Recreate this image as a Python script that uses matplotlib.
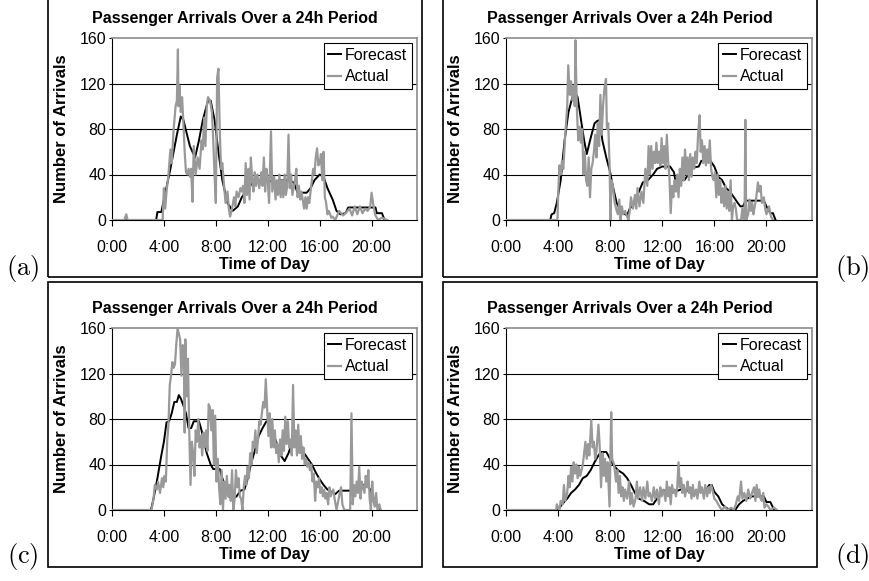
#!/usr/bin/env python3
"""Forecast vs actual passenger arrivals over a 24h period, four panels."""

import matplotlib.pyplot as plt
from matplotlib.patches import Rectangle

plt.rcParams["font.family"] = ["Liberation Sans", "DejaVu Sans"]

FIG_W, FIG_H = 870, 581

HOUR_TICKS = [0, 4, 8, 12, 16, 20]
HOUR_LABELS = ["0:00", "4:00", "8:00", "12:00", "16:00", "20:00"]
Y_TICKS = [0, 40, 80, 120, 160]
TITLE = "Passenger Arrivals Over a 24h Period"
PANEL_TAGS = ["(a)", "(b)", "(c)", "(d)"]

# (hour, arrivals)
A_FORECAST = [
    (0, 0), (3.4, 0), (3.5, 7), (3.8, 7), (4.0, 18), (4.5, 45), (5.0, 75), (5.3, 91),
    (5.5, 88), (6.0, 65), (6.4, 55), (6.7, 70), (7.0, 88), (7.4, 105), (7.6, 105), (7.9, 88),
    (8.2, 60), (8.5, 35), (8.9, 15), (9.3, 8), (9.7, 12), (10.0, 20), (10.5, 28), (11.0, 35),
    (11.5, 35), (12.0, 35), (12.5, 33), (13.0, 35), (13.5, 35), (14.0, 33), (14.3, 24), (15.0, 24),
    (15.3, 28), (15.6, 35), (16.0, 40), (16.3, 38), (16.6, 28), (17.0, 18), (17.3, 8), (17.6, 5),
    (18.0, 6), (18.2, 11), (20.3, 11), (20.4, 6), (20.8, 6), (21.0, 0),
]
A_ACTUAL = [
    (0, 0), (0.95, 0), (1.1, 5), (1.2, 0), (3.9, 0), (4.0, 28), (4.1, 10), (4.2, 25),
    (4.35, 40), (4.5, 62), (4.6, 50), (4.75, 80), (4.9, 100), (5.0, 105), (5.08, 150), (5.12, 100),
    (5.2, 118), (5.3, 95), (5.4, 108), (5.5, 85), (5.6, 60), (5.7, 42), (5.8, 40), (5.9, 45),
    (6.0, 38), (6.1, 45), (6.2, 16), (6.3, 65), (6.45, 40), (6.6, 55), (6.75, 45), (6.9, 70),
    (7.0, 62), (7.1, 90), (7.2, 65), (7.3, 100), (7.4, 108), (7.55, 105), (7.7, 95), (7.8, 70),
    (7.9, 40), (8.0, 15), (8.1, 125), (8.2, 133), (8.3, 80), (8.4, 45), (8.5, 50), (8.6, 35),
    (8.75, 15), (8.9, 25), (9.0, 10), (9.1, 3), (9.25, 10), (9.4, 20), (9.5, 12), (9.6, 25),
    (9.75, 20), (9.9, 28), (10.0, 25), (10.1, 30), (10.2, 15), (10.3, 50), (10.4, 22), (10.5, 45),
    (10.6, 18), (10.7, 55), (10.8, 35), (10.9, 25), (11.0, 42), (11.1, 30), (11.2, 40), (11.35, 28),
    (11.5, 42), (11.6, 30), (11.7, 55), (11.8, 25), (11.9, 45), (12.0, 35), (12.1, 15), (12.18, 48),
    (12.25, 78), (12.35, 25), (12.5, 38), (12.6, 18), (12.7, 35), (12.8, 22), (12.9, 40), (13.0, 20),
    (13.1, 35), (13.2, 20), (13.3, 40), (13.4, 22), (13.5, 30), (13.6, 75), (13.7, 28), (13.8, 40),
    (13.9, 22), (14.1, 35), (14.2, 45), (14.3, 20), (14.4, 30), (14.5, 18), (14.6, 25), (14.8, 10),
    (14.9, 20), (15.0, 10), (15.1, 20), (15.2, 15), (15.35, 30), (15.5, 45), (15.6, 40), (15.7, 55),
    (15.8, 63), (15.9, 48), (16.0, 50), (16.1, 58), (16.2, 35), (16.3, 60), (16.4, 20), (16.5, 15),
    (16.6, 5), (16.7, 8), (16.9, 2), (17.0, 3), (17.2, 0), (17.5, 8), (17.8, 4), (18.0, 6),
    (18.3, 10), (18.5, 4), (18.7, 12), (18.9, 5), (19.1, 12), (19.3, 6), (19.5, 10), (19.7, 8),
    (19.9, 12), (20.0, 24), (20.15, 12), (20.3, 4), (20.5, 0), (20.8, 2), (21.2, 0),
]

B_FORECAST = [
    (0, 0), (3.4, 0), (3.5, 5), (3.7, 6), (3.9, 15), (4.2, 35), (4.5, 70), (4.8, 95),
    (5.1, 108), (5.3, 112), (5.5, 108), (5.8, 85), (6.0, 70), (6.2, 58), (6.5, 72), (6.8, 85),
    (7.0, 87), (7.2, 88), (7.4, 70), (7.7, 55), (8.0, 42), (8.2, 30), (8.5, 15), (8.8, 8),
    (9.0, 6), (9.3, 4), (9.5, 10), (9.9, 15), (10.1, 22), (10.5, 33), (10.9, 35), (11.3, 40),
    (11.6, 45), (12.0, 47), (12.6, 47), (12.9, 42), (13.0, 35), (13.7, 35), (14.0, 40), (14.3, 46),
    (14.8, 47), (15.0, 52), (15.7, 52), (16.0, 47), (16.3, 38), (16.6, 35), (16.9, 28), (17.2, 25),
    (17.5, 20), (17.8, 15), (18.0, 12), (18.2, 12), (18.4, 17), (19.8, 17), (20.0, 12), (20.3, 6),
    (20.5, 6), (20.7, 0),
]
B_ACTUAL = [
    (0, 0), (3.95, 0), (4.0, 20), (4.1, 48), (4.2, 40), (4.3, 52), (4.4, 45), (4.55, 75),
    (4.7, 100), (4.78, 136), (4.9, 110), (5.0, 122), (5.1, 105), (5.2, 118), (5.28, 100), (5.33, 158),
    (5.45, 95), (5.55, 70), (5.65, 82), (5.75, 68), (5.85, 80), (5.95, 40), (6.05, 60), (6.15, 35),
    (6.25, 30), (6.35, 55), (6.45, 20), (6.55, 45), (6.65, 50), (6.75, 60), (6.85, 75), (6.95, 55),
    (7.05, 85), (7.15, 65), (7.25, 110), (7.35, 75), (7.45, 100), (7.55, 115), (7.68, 124), (7.75, 80),
    (7.85, 85), (7.95, 50), (8.03, 0), (8.1, 35), (8.2, 30), (8.35, 15), (8.5, 8), (8.6, 5),
    (8.7, 18), (8.8, 0), (8.9, 12), (9.0, 5), (9.15, 8), (9.3, 3), (9.4, 0), (9.5, 8),
    (9.6, 20), (9.75, 10), (9.9, 22), (10.0, 10), (10.1, 28), (10.25, 12), (10.4, 25), (10.55, 15),
    (10.7, 45), (10.85, 30), (10.95, 65), (11.05, 40), (11.15, 65), (11.25, 45), (11.35, 60), (11.45, 50),
    (11.55, 68), (11.65, 50), (11.75, 60), (11.85, 48), (11.95, 72), (12.05, 50), (12.15, 65), (12.25, 45),
    (12.35, 75), (12.45, 52), (12.55, 38), (12.65, 6), (12.75, 30), (12.85, 20), (12.95, 35), (13.05, 25),
    (13.15, 40), (13.25, 20), (13.35, 45), (13.45, 30), (13.55, 55), (13.65, 35), (13.75, 62), (13.85, 40),
    (13.95, 55), (14.05, 35), (14.15, 58), (14.25, 38), (14.35, 55), (14.45, 45), (14.55, 60), (14.65, 50),
    (14.75, 75), (14.87, 92), (14.95, 60), (15.05, 70), (15.15, 50), (15.25, 65), (15.35, 48), (15.45, 62),
    (15.55, 50), (15.65, 70), (15.75, 45), (15.85, 38), (15.95, 35), (16.05, 42), (16.15, 20), (16.25, 40),
    (16.35, 22), (16.45, 35), (16.55, 15), (16.65, 28), (16.75, 12), (16.85, 30), (16.95, 10), (17.05, 25),
    (17.15, 8), (17.25, 35), (17.35, 0), (17.45, 12), (17.55, 15), (17.65, 10), (17.75, 0), (18.05, 0),
    (18.15, 10), (18.25, 0), (18.32, 0), (18.38, 88), (18.45, 0), (18.6, 5), (18.7, 18), (18.8, 8),
    (18.9, 15), (19.0, 5), (19.1, 12), (19.2, 18), (19.35, 33), (19.45, 25), (19.55, 30), (19.65, 15),
    (19.8, 20), (19.9, 10), (20.0, 5), (20.2, 12), (20.35, 3), (20.5, 0),
]

C_FORECAST = [
    (0, 0), (3.0, 0), (3.2, 10), (3.5, 28), (3.8, 48), (4.0, 60), (4.2, 77), (4.4, 78),
    (4.6, 85), (4.8, 95), (5.0, 95), (5.15, 101), (5.3, 98), (5.5, 92), (5.7, 85), (5.9, 72),
    (6.1, 72), (6.3, 78), (6.7, 78), (6.9, 70), (7.1, 60), (7.3, 50), (7.6, 40), (7.8, 36),
    (8.3, 36), (8.5, 28), (8.8, 18), (9.0, 12), (9.3, 10), (9.6, 12), (9.9, 17), (10.2, 18),
    (10.4, 25), (10.7, 40), (11.0, 52), (11.3, 65), (11.6, 72), (11.9, 78), (12.2, 75), (12.5, 65),
    (12.8, 55), (13.0, 48), (13.3, 43), (13.6, 50), (13.9, 60), (14.2, 62), (14.5, 58), (14.8, 50),
    (15.1, 45), (15.4, 40), (15.7, 33), (16.0, 27), (16.3, 22), (16.6, 18), (16.9, 16), (17.2, 14),
    (17.5, 17), (18.4, 17), (18.7, 20), (18.9, 22), (19.6, 22), (19.9, 18), (20.1, 12), (20.4, 5),
    (20.7, 0),
]
C_ACTUAL = [
    (0, 0), (3.05, 0), (3.2, 10), (3.3, 22), (3.45, 18), (3.55, 25), (3.7, 15), (3.85, 28),
    (3.95, 20), (4.05, 30), (4.15, 25), (4.25, 60), (4.35, 75), (4.45, 110), (4.55, 118), (4.65, 130),
    (4.75, 125), (4.85, 128), (4.95, 145), (5.05, 160), (5.15, 155), (5.25, 150), (5.35, 118), (5.45, 145),
    (5.55, 130), (5.6, 68), (5.65, 150), (5.75, 100), (5.85, 133), (5.95, 70), (6.05, 22), (6.15, 60),
    (6.25, 50), (6.35, 30), (6.45, 70), (6.55, 60), (6.65, 80), (6.75, 55), (6.85, 65), (6.95, 48),
    (7.05, 68), (7.15, 55), (7.25, 70), (7.35, 52), (7.45, 93), (7.55, 90), (7.65, 70), (7.75, 88),
    (7.85, 40), (7.95, 83), (8.05, 25), (8.15, 45), (8.25, 20), (8.35, 5), (8.45, 35), (8.55, 0),
    (8.65, 25), (8.75, 10), (8.85, 30), (8.95, 12), (9.05, 22), (9.15, 8), (9.25, 35), (9.35, 0),
    (9.45, 10), (9.55, 35), (9.65, 20), (9.75, 28), (9.85, 12), (9.95, 10), (10.05, 0), (10.15, 20),
    (10.25, 30), (10.35, 22), (10.45, 38), (10.55, 28), (10.65, 50), (10.75, 40), (10.85, 60), (10.95, 55),
    (11.05, 70), (11.15, 50), (11.25, 62), (11.35, 78), (11.45, 75), (11.55, 85), (11.65, 95), (11.75, 90),
    (11.85, 115), (11.95, 90), (12.05, 65), (12.15, 85), (12.25, 55), (12.35, 80), (12.45, 55), (12.55, 70),
    (12.65, 50), (12.75, 58), (12.85, 42), (12.95, 62), (13.05, 48), (13.15, 70), (13.25, 52), (13.35, 82),
    (13.45, 58), (13.55, 78), (13.65, 55), (13.75, 62), (13.85, 48), (13.95, 110), (14.05, 55), (14.15, 70),
    (14.25, 48), (14.35, 75), (14.45, 50), (14.55, 65), (14.65, 45), (14.75, 55), (14.85, 40), (14.95, 45),
    (15.05, 38), (15.15, 42), (15.25, 35), (15.35, 40), (15.45, 25), (15.55, 32), (15.65, 8), (15.75, 25),
    (15.85, 20), (15.95, 28), (16.05, 15), (16.15, 20), (16.25, 12), (16.35, 18), (16.45, 10), (16.55, 15),
    (16.65, 5), (16.75, 20), (16.85, 12), (16.95, 15), (17.05, 18), (17.15, 10), (17.3, 0), (17.5, 12),
    (17.65, 20), (17.75, 5), (17.9, 0), (18.35, 0), (18.45, 85), (18.55, 5), (18.65, 22), (18.75, 12),
    (18.85, 25), (18.95, 15), (19.05, 38), (19.15, 10), (19.25, 25), (19.35, 20), (19.45, 15), (19.55, 30),
    (19.65, 20), (19.75, 35), (19.85, 10), (19.95, 0), (20.05, 25), (20.15, 8), (20.25, 3), (20.35, 15),
    (20.45, 0), (20.6, 5), (20.7, 0),
]

D_FORECAST = [
    (0, 0), (4.0, 0), (4.3, 5), (4.7, 10), (5.0, 15), (5.3, 18), (5.6, 22), (5.9, 28),
    (6.2, 30), (6.5, 35), (6.8, 42), (7.1, 48), (7.3, 51), (7.7, 51), (7.9, 47), (8.2, 40),
    (8.6, 35), (9.0, 32), (9.3, 28), (9.6, 22), (9.9, 15), (10.2, 10), (10.6, 8), (11.0, 5),
    (11.3, 5), (11.6, 10), (12.0, 17), (12.4, 17), (13.0, 16), (13.4, 18), (14.0, 17), (14.6, 16),
    (15.0, 17), (15.3, 16), (15.6, 22), (15.8, 22), (16.0, 16), (16.3, 12), (16.6, 5), (16.9, 2),
    (17.2, 0), (17.6, 0), (17.9, 5), (18.2, 8), (18.5, 10), (18.9, 12), (19.8, 12), (20.0, 7),
    (20.3, 7), (20.6, 0),
]
D_ACTUAL = [
    (0, 0), (3.85, 0), (3.9, 5), (4.0, 2), (4.1, 0), (4.2, 8), (4.35, 5), (4.45, 22),
    (4.55, 8), (4.7, 15), (4.8, 30), (4.9, 20), (5.0, 38), (5.1, 25), (5.2, 42), (5.3, 32),
    (5.4, 40), (5.5, 28), (5.6, 38), (5.7, 30), (5.8, 35), (5.9, 40), (6.0, 50), (6.1, 60),
    (6.2, 45), (6.3, 58), (6.4, 48), (6.55, 79), (6.65, 55), (6.75, 60), (6.85, 45), (6.95, 52),
    (7.1, 75), (7.2, 55), (7.3, 20), (7.4, 50), (7.5, 30), (7.6, 45), (7.7, 25), (7.8, 42),
    (7.95, 3), (8.08, 86), (8.15, 45), (8.3, 40), (8.45, 25), (8.55, 35), (8.65, 15), (8.75, 30),
    (8.85, 12), (8.95, 20), (9.05, 8), (9.15, 18), (9.3, 10), (9.45, 25), (9.55, 5), (9.65, 15),
    (9.8, 3), (9.95, 10), (10.05, 25), (10.15, 10), (10.3, 20), (10.45, 8), (10.55, 20), (10.7, 10),
    (10.85, 25), (10.95, 12), (11.05, 15), (11.2, 8), (11.35, 20), (11.45, 10), (11.6, 18), (11.75, 5),
    (11.85, 20), (11.95, 12), (12.1, 18), (12.25, 8), (12.35, 25), (12.45, 12), (12.55, 20), (12.65, 5),
    (12.75, 22), (12.85, 15), (12.95, 18), (13.05, 12), (13.15, 20), (13.25, 42), (13.35, 20), (13.45, 28),
    (13.55, 15), (13.65, 22), (13.75, 12), (13.85, 18), (13.95, 25), (14.05, 15), (14.15, 20), (14.25, 10),
    (14.35, 22), (14.45, 12), (14.6, 18), (14.7, 10), (14.85, 25), (14.95, 15), (15.05, 20), (15.2, 10),
    (15.3, 22), (15.45, 12), (15.55, 20), (15.65, 15), (15.75, 22), (15.85, 18), (16.0, 10), (16.15, 8),
    (16.3, 5), (16.45, 2), (16.6, 0), (16.8, 3), (17.0, 0), (17.3, 2), (17.5, 0), (17.65, 5),
    (17.8, 12), (17.9, 8), (18.05, 25), (18.15, 10), (18.3, 15), (18.45, 8), (18.6, 18), (18.75, 10),
    (18.9, 15), (19.05, 20), (19.15, 8), (19.25, 22), (19.35, 12), (19.45, 18), (19.55, 10), (19.65, 8),
    (19.75, 15), (19.85, 2), (20.0, 5), (20.15, 3), (20.3, 0), (20.6, 2), (20.8, 0),
]

PANEL_DATA = [(A_FORECAST, A_ACTUAL), (B_FORECAST, B_ACTUAL), (C_FORECAST, C_ACTUAL), (D_FORECAST, D_ACTUAL)]

# layout in pixels: plot area (left, top, right, bottom), outer box, tag centre
PLOT_AREAS = [(112, 38, 417, 220), (506, 38, 812, 220), (112, 328, 417, 510), (506, 328, 812, 510)]
BOXES = [(48, -5, 422, 277), (443, -5, 817, 277), (48, 282, 422, 567), (443, 282, 817, 567)]
TITLE_Y = [18, 18, 308, 308]
TAG_POS = [(23, 268), (852, 268), (23, 556), (852, 556)]
FONT_SIZE = 11.5


def fx(px: float) -> float:
    return px / FIG_W


def fy(py: float) -> float:
    return 1 - py / FIG_H


def draw_panel(fig, area, box, title_y, forecast, actual):
    left, top, right, bottom = area
    ax = fig.add_axes([fx(left), fy(bottom), fx(right - left), (bottom - top) / FIG_H])

    b_left, b_top, b_right, b_bottom = box
    fig.patches.append(
        Rectangle((fx(b_left), fy(b_bottom)), fx(b_right - b_left), (b_bottom - b_top) / FIG_H,
                  transform=fig.transFigure, fill=False, edgecolor="black", linewidth=1.2)
    )
    fig.text(fx((b_left + b_right) / 2), fy(title_y), TITLE, ha="center", va="center",
             fontsize=FONT_SIZE, fontweight="bold")

    for y in Y_TICKS[1:-1]:
        ax.axhline(y, color="black", linewidth=0.8, zorder=1)

    f_t, f_v = zip(*forecast)
    a_t, a_v = zip(*actual)
    ax.plot(f_t, f_v, color="black", linewidth=1.4, label="Forecast", zorder=3)
    ax.plot(a_t, a_v, color="#999999", linewidth=1.6, label="Actual", zorder=4)

    ax.set_xlim(0, 23.5)
    ax.set_ylim(0, 160)
    ax.set_xticks(HOUR_TICKS, HOUR_LABELS)
    ax.set_yticks(Y_TICKS)
    ax.tick_params(axis="x", direction="out", length=4.5, width=0.8, pad=10, labelsize=FONT_SIZE)
    ax.tick_params(axis="y", direction="out", length=2.5, width=0.8, pad=1.5, labelsize=FONT_SIZE)

    for side in ("top", "right"):
        ax.spines[side].set_color("#8c8c8c")
        ax.spines[side].set_linewidth(1.2)
    for side in ("left", "bottom"):
        ax.spines[side].set_color("black")
        ax.spines[side].set_linewidth(0.8)

    ax.set_ylabel("Number of Arrivals", fontsize=12, fontweight="bold")
    ax.yaxis.label.set_va("center")
    ax.yaxis.set_label_coords(-0.164, 0.5)
    ax.set_xlabel("Time of Day", fontsize=FONT_SIZE, fontweight="bold")
    ax.xaxis.label.set_va("center")
    ax.xaxis.set_label_coords(0.5, -0.245)

    legend = ax.legend(loc="upper right", bbox_to_anchor=(0.984, 0.973), borderaxespad=0,
                       fontsize=FONT_SIZE, frameon=True, fancybox=False, framealpha=1,
                       edgecolor="black", borderpad=0.3, handlelength=0.8,
                       handletextpad=0.25, labelspacing=0.4)
    legend.get_frame().set_linewidth(0.8)
    return ax


def main() -> None:
    fig = plt.figure(figsize=(FIG_W / 100, FIG_H / 100), dpi=100)
    for i, (forecast, actual) in enumerate(PANEL_DATA):
        draw_panel(fig, PLOT_AREAS[i], BOXES[i], TITLE_Y[i], forecast, actual)
        tx, ty = TAG_POS[i]
        fig.text(fx(tx), fy(ty), r"$\mathrm{" + PANEL_TAGS[i] + "}$", ha="center", va="center",
                 fontsize=19, math_fontfamily="cm")
    fig.savefig("out.png", dpi=100)
    plt.close(fig)


if __name__ == "__main__":
    main()
